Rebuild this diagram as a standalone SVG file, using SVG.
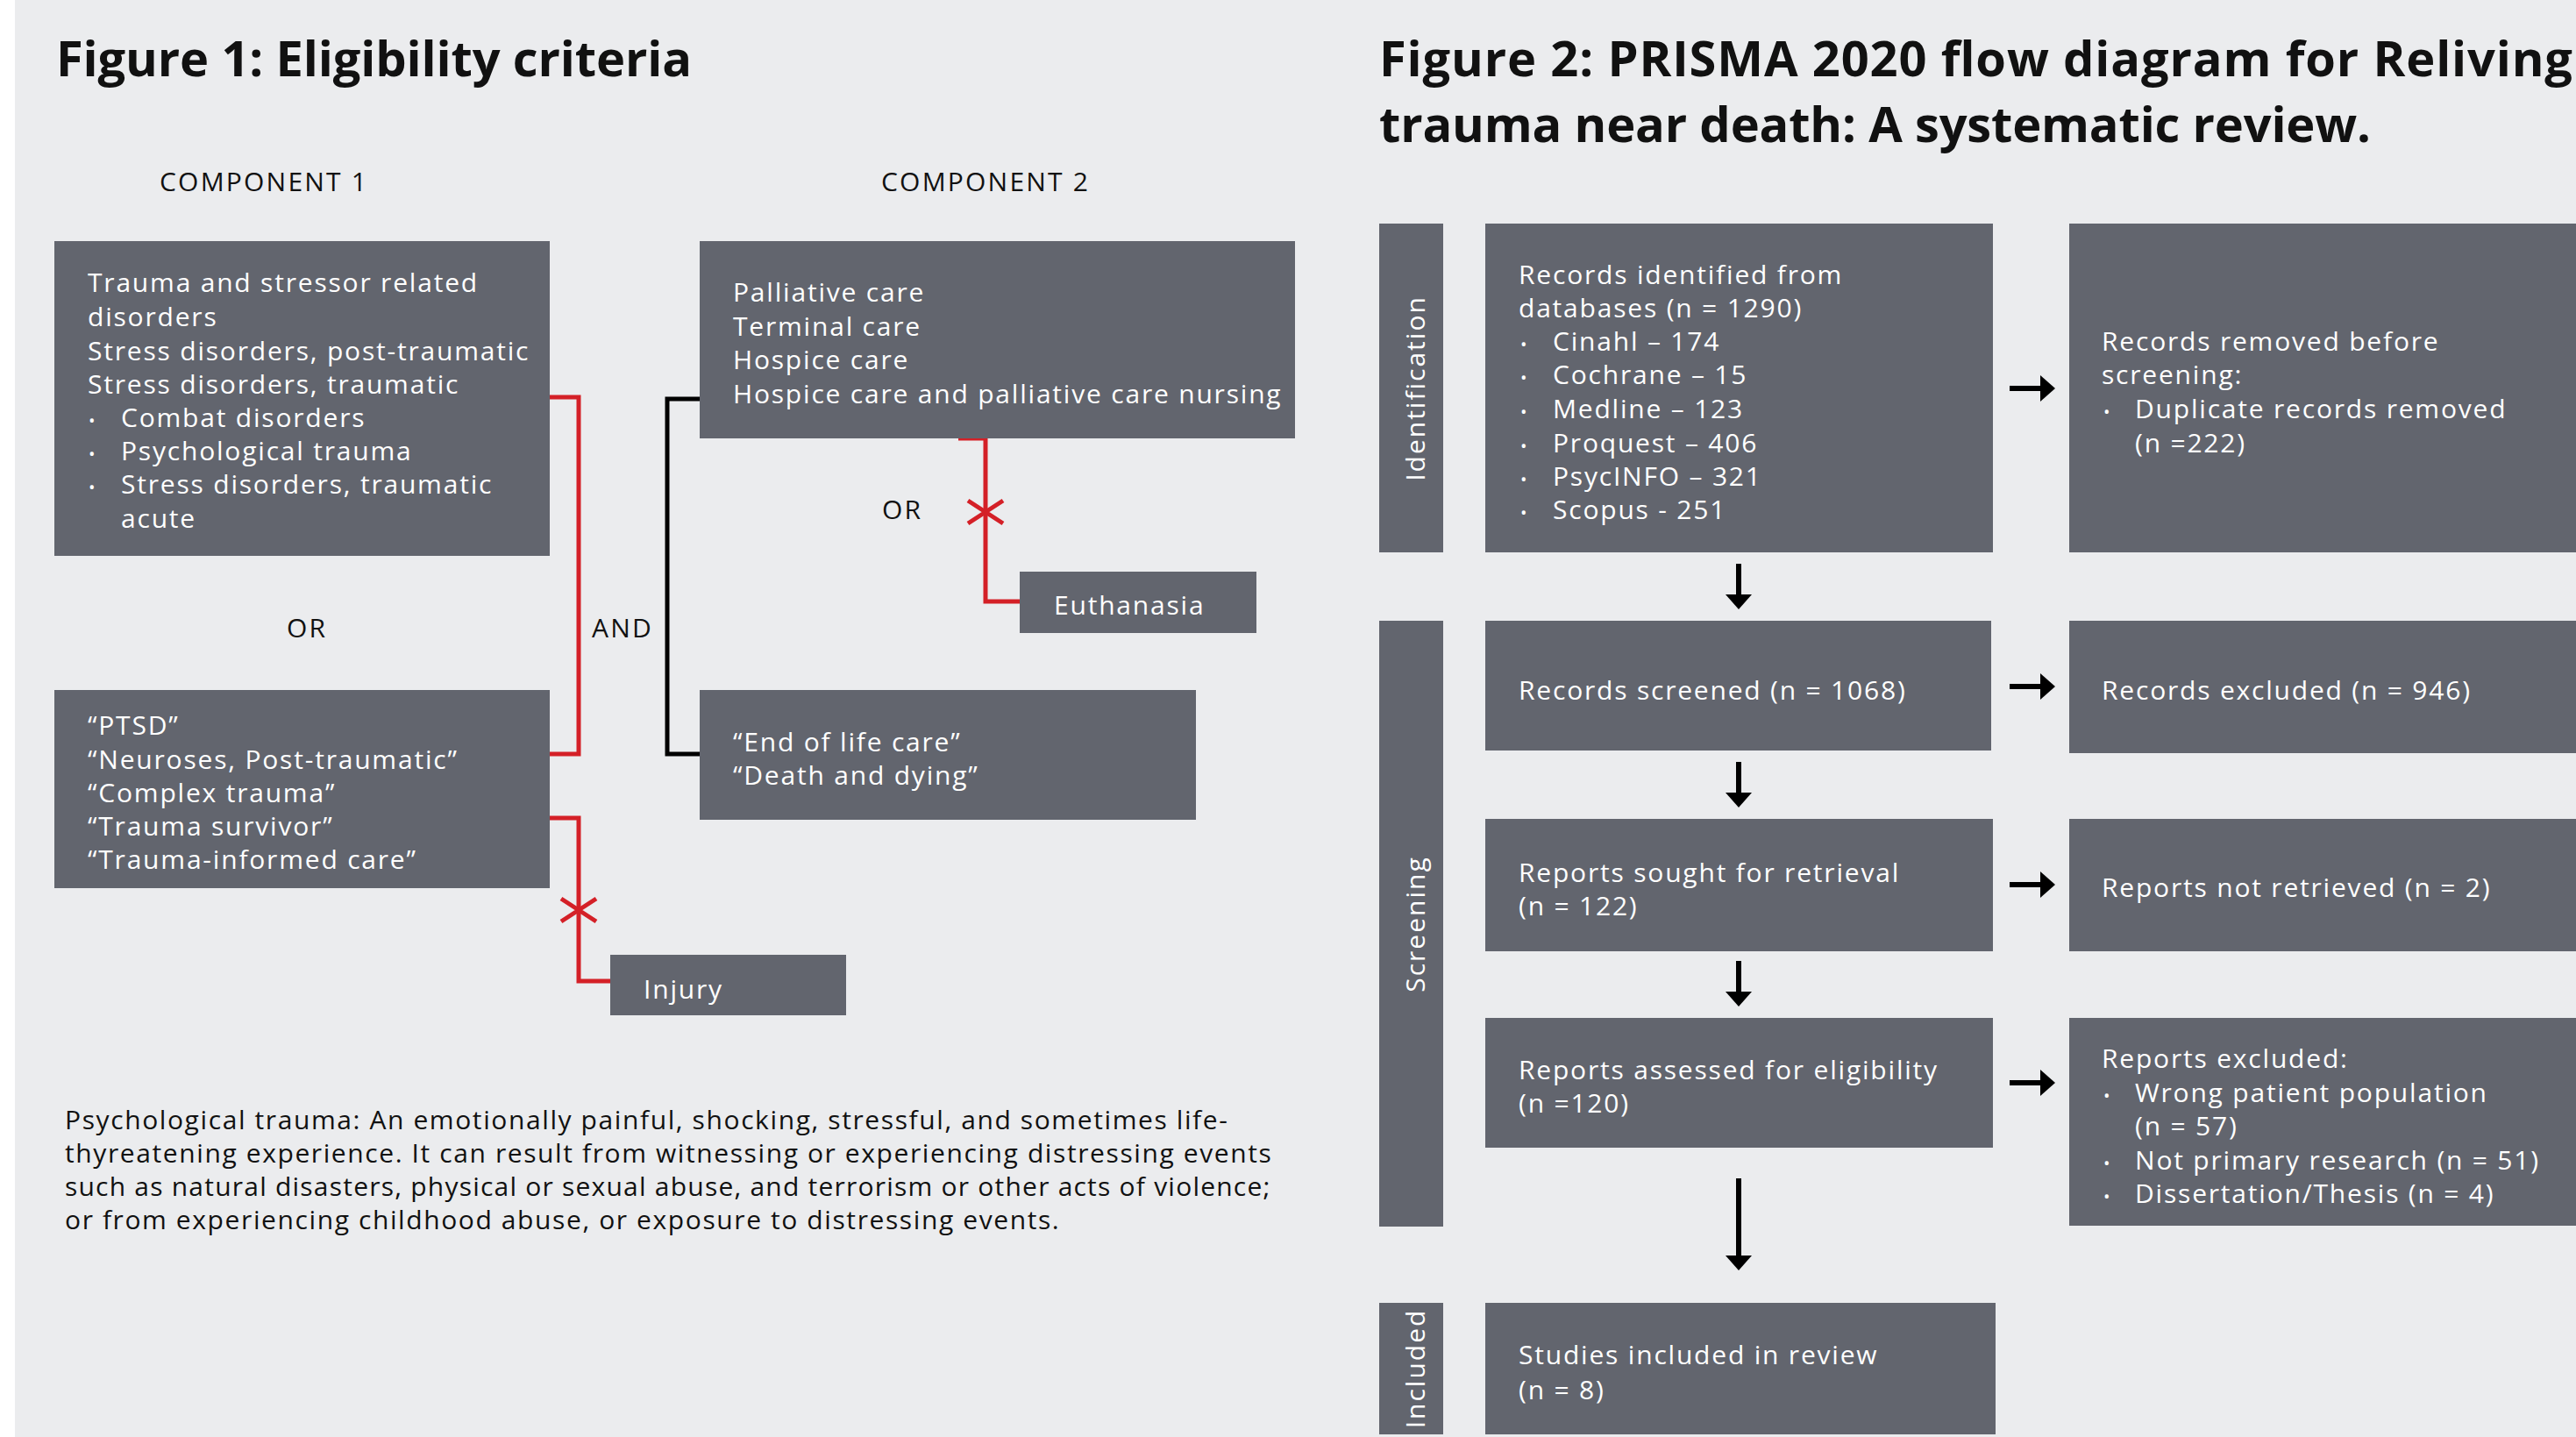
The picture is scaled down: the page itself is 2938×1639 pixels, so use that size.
<svg xmlns="http://www.w3.org/2000/svg" width="2938" height="1639" viewBox="0 0 2938 1639">
<style>
.bg{fill:#EBECEE}
.box{fill:#62656E}
.t{font-family:"Open Sans","Liberation Sans",sans-serif;font-size:30px;letter-spacing:1.8px;font-weight:500;fill:#FFFFFF}
.d{font-family:"Open Sans","Liberation Sans",sans-serif;font-size:30px;letter-spacing:1.6px;fill:#111111}
.lbl{font-family:"Open Sans","Liberation Sans",sans-serif;font-size:30px;letter-spacing:2.2px;fill:#111111;font-weight:500}
.title{font-family:"Open Sans","Liberation Sans",sans-serif;font-size:56px;font-weight:700;fill:#111111}
.side{font-family:"Open Sans","Liberation Sans",sans-serif;font-size:30px;fill:#FFFFFF;letter-spacing:2px;text-anchor:middle}
.b{font-size:20px;letter-spacing:0}
.red{fill:none;stroke:#D42027;stroke-width:5}
.blk{fill:none;stroke:#000000;stroke-width:5}
.arr{stroke:#000000;stroke-width:6;fill:none}
</style>
<defs>
<g id="xmark"><path d="M-20,-13 L20,13 M-20,13 L20,-13" class="red"/></g>
<path id="ahr" d="M0,0 L-17,-15 L-17,15 Z" fill="#000000"/>
<path id="ahd" d="M0,0 L-15,-17 L15,-17 Z" fill="#000000"/>
</defs>
<rect x="0" y="0" width="2938" height="1639" fill="#FFFFFF"/>
<rect class="bg" x="17" y="0" width="2921" height="1639"/>

<!-- Figure 1 -->
<text class="title" x="64" y="87" textLength="725" lengthAdjust="spacing">Figure 1: Eligibility criteria</text>
<text class="lbl" x="182" y="218">COMPONENT 1</text>
<text class="lbl" x="1005" y="218">COMPONENT 2</text>

<g id="connectors-fig1">
<path class="red" d="M627,453 H660 V860 H627"/>
<path class="red" d="M627,933 H660 V1119 H696"/>
<path class="blk" d="M798,455 H761 V860 H798"/>
<path class="red" d="M1093,500 H1124 V686 H1163"/>
<use href="#xmark" x="660" y="1038"/>
<use href="#xmark" x="1124" y="584"/>
</g>

<g id="c1-terms">
<rect class="box" x="62" y="275" width="565" height="359"/>
<text class="t" x="100" y="333">Trauma and stressor related</text>
<text class="t" x="100" y="372">disorders</text>
<text class="t" x="100" y="411">Stress disorders, post-traumatic</text>
<text class="t" x="100" y="449">Stress disorders, traumatic</text>
<text class="t b" x="101" y="487">•</text><text class="t" x="138" y="487">Combat disorders</text>
<text class="t b" x="101" y="525">•</text><text class="t" x="138" y="525">Psychological trauma</text>
<text class="t b" x="101" y="563">•</text><text class="t" x="138" y="563">Stress disorders, traumatic</text>
<text class="t" x="138" y="602">acute</text>
</g>

<g id="c1-keywords">
<rect class="box" x="62" y="787" width="565" height="226"/>
<text class="t" x="100" y="838">“PTSD”</text>
<text class="t" x="100" y="877">“Neuroses, Post-traumatic”</text>
<text class="t" x="100" y="915">“Complex trauma”</text>
<text class="t" x="100" y="953">“Trauma survivor”</text>
<text class="t" x="100" y="991">“Trauma-informed care”</text>
</g>

<g id="c2-terms">
<rect class="box" x="798" y="275" width="679" height="225"/>
<text class="t" x="836" y="344">Palliative care</text>
<text class="t" x="836" y="383">Terminal care</text>
<text class="t" x="836" y="421">Hospice care</text>
<text class="t" x="836" y="460">Hospice care and palliative care nursing</text>
</g>

<g id="c2-keywords">
<rect class="box" x="798" y="787" width="566" height="148"/>
<text class="t" x="836" y="857">“End of life care”</text>
<text class="t" x="836" y="895">“Death and dying”</text>
</g>

<g id="euthanasia">
<rect class="box" x="1163" y="652" width="270" height="70"/>
<text class="t" x="1202" y="701">Euthanasia</text>
</g>

<g id="injury">
<rect class="box" x="696" y="1089" width="269" height="69"/>
<text class="t" x="734" y="1139">Injury</text>
</g>

<text class="lbl" x="327" y="727">OR</text>
<text class="lbl" x="675" y="727">AND</text>
<text class="lbl" x="1006" y="592">OR</text>

<g id="definition">
<text class="d" x="74" y="1288">Psychological trauma: An emotionally painful, shocking, stressful, and sometimes life-</text>
<text class="d" x="74" y="1326">thyreatening experience. It can result from witnessing or experiencing distressing events</text>
<text class="d" x="74" y="1364" textLength="1376" lengthAdjust="spacing">such as natural disasters, physical or sexual abuse, and terrorism or other acts of violence;</text>
<text class="d" x="74" y="1402">or from experiencing childhood abuse, or exposure to distressing events.</text>
</g>

<!-- Figure 2 -->
<text class="title" x="1573" y="87" textLength="1361" lengthAdjust="spacing">Figure 2: PRISMA 2020 flow diagram for Reliving</text>
<text class="title" x="1573" y="162" textLength="1131" lengthAdjust="spacing">trauma near death: A systematic review.</text>

<g id="side-identification">
<rect class="box" x="1573" y="255" width="73" height="375"/>
<text class="side" transform="translate(1625,443) rotate(-90)">Identification</text>
</g>
<g id="side-screening">
<rect class="box" x="1573" y="708" width="73" height="691"/>
<text class="side" transform="translate(1625,1054) rotate(-90)">Screening</text>
</g>
<g id="side-included">
<rect class="box" x="1573" y="1486" width="73" height="150"/>
<text class="side" transform="translate(1625,1561) rotate(-90)">Included</text>
</g>

<g id="connectors-fig2">
<path class="arr" d="M2292,443 H2330"/><use href="#ahr" x="2344" y="443"/>
<path class="arr" d="M2292,783 H2330"/><use href="#ahr" x="2344" y="783"/>
<path class="arr" d="M2292,1009 H2330"/><use href="#ahr" x="2344" y="1009"/>
<path class="arr" d="M2292,1235 H2330"/><use href="#ahr" x="2344" y="1235"/>
<path class="arr" d="M1983,643 V681"/><use href="#ahd" x="1983" y="695"/>
<path class="arr" d="M1983,869 V907"/><use href="#ahd" x="1983" y="921"/>
<path class="arr" d="M1983,1096 V1134"/><use href="#ahd" x="1983" y="1148"/>
<path class="arr" d="M1983,1344 V1435"/><use href="#ahd" x="1983" y="1449"/>
</g>

<g id="records-identified">
<rect class="box" x="1694" y="255" width="579" height="375"/>
<text class="t" x="1732" y="324">Records identified from</text>
<text class="t" x="1732" y="362">databases (n = 1290)</text>
<text class="t b" x="1734" y="400">•</text><text class="t" x="1771" y="400">Cinahl – 174</text>
<text class="t b" x="1734" y="438">•</text><text class="t" x="1771" y="438">Cochrane – 15</text>
<text class="t b" x="1734" y="477">•</text><text class="t" x="1771" y="477">Medline – 123</text>
<text class="t b" x="1734" y="516">•</text><text class="t" x="1771" y="516">Proquest – 406</text>
<text class="t b" x="1734" y="554">•</text><text class="t" x="1771" y="554">PsycINFO – 321</text>
<text class="t b" x="1734" y="592">•</text><text class="t" x="1771" y="592">Scopus - 251</text>
</g>

<g id="records-removed">
<rect class="box" x="2360" y="255" width="578" height="375"/>
<text class="t" x="2397" y="400">Records removed before</text>
<text class="t" x="2397" y="438">screening:</text>
<text class="t b" x="2399" y="477">•</text><text class="t" x="2435" y="477">Duplicate records removed</text>
<text class="t" x="2435" y="516">(n =222)</text>
</g>

<g id="records-screened">
<rect class="box" x="1694" y="708" width="577" height="148"/>
<text class="t" x="1732" y="798">Records screened (n = 1068)</text>
</g>

<g id="records-excluded">
<rect class="box" x="2360" y="708" width="578" height="151"/>
<text class="t" x="2397" y="798">Records excluded (n = 946)</text>
</g>

<g id="reports-sought">
<rect class="box" x="1694" y="934" width="579" height="151"/>
<text class="t" x="1732" y="1006">Reports sought for retrieval</text>
<text class="t" x="1732" y="1044">(n = 122)</text>
</g>

<g id="reports-not-retrieved">
<rect class="box" x="2360" y="934" width="578" height="151"/>
<text class="t" x="2397" y="1023">Reports not retrieved (n = 2)</text>
</g>

<g id="reports-assessed">
<rect class="box" x="1694" y="1161" width="579" height="148"/>
<text class="t" x="1732" y="1231">Reports assessed for eligibility</text>
<text class="t" x="1732" y="1269">(n =120)</text>
</g>

<g id="reports-excluded">
<rect class="box" x="2360" y="1161" width="578" height="237"/>
<text class="t" x="2397" y="1218">Reports excluded:</text>
<text class="t b" x="2399" y="1257">•</text><text class="t" x="2435" y="1257">Wrong patient population</text>
<text class="t" x="2435" y="1295">(n = 57)</text>
<text class="t b" x="2399" y="1334">•</text><text class="t" x="2435" y="1334">Not primary research (n = 51)</text>
<text class="t b" x="2399" y="1372">•</text><text class="t" x="2435" y="1372">Dissertation/Thesis (n = 4)</text>
</g>

<g id="studies-included">
<rect class="box" x="1694" y="1486" width="582" height="150"/>
<text class="t" x="1732" y="1556">Studies included in review</text>
<text class="t" x="1732" y="1596">(n = 8)</text>
</g>
</svg>
